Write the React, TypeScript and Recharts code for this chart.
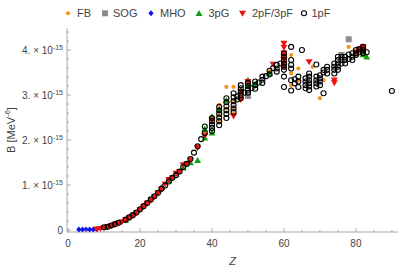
import React from 'react';
import { ScatterChart, Scatter, XAxis, YAxis } from 'recharts';

// B in units of 1e-15 MeV^-6 as [Z, B]
const fb: [number, number][] = [
  [38, 2.18], [40, 2.4], [42, 2.78], [42, 2.55], [42, 2.4], [44, 3.18], [44, 2.7],
  [46, 3.18], [46, 2.87], [46, 2.72], [46, 2.58], [48, 3.0], [50, 3.27], [56, 3.52],
  [60, 3.63], [62, 3.89], [62, 3.48], [62, 3.22], [64, 3.59], [64, 3.33], [68, 3.63],
  [70, 2.93], [71, 3.33], [78, 4.07], [80, 4.0], [81, 3.96], [82, 4.02],
];
const sog: [number, number][] = [[50, 2.98], [76, 3.89], [78, 4.24], [80, 3.92], [82, 3.97]];
const mho: [number, number][] = [[3, 0.01], [4, 0.01], [5, 0.01], [6, 0.01], [7, 0.01], [8, 0.015]];
const pg3: [number, number][] = [
  [16, 0.22], [26, 0.95], [28, 1.1], [30, 1.25], [32, 1.38], [34, 1.5], [36, 1.55],
  [38, 2.05], [38, 2.25], [40, 2.16], [40, 2.52], [42, 2.67], [44, 2.88], [48, 3.1],
  [50, 3.33], [50, 3.22], [52, 3.25], [56, 3.48], [82, 3.9], [83, 3.85],
];
const pf23: [number, number][] = [
  [8, 0.02], [9, 0.03], [10, 0.05], [11, 0.07], [12, 0.09], [13, 0.12], [14, 0.15],
  [15, 0.18], [16, 0.22], [17, 0.27], [18, 0.32], [19, 0.38], [20, 0.45], [21, 0.52],
  [22, 0.59], [23, 0.66], [24, 0.74], [25, 0.82], [26, 0.9], [27, 1.02], [28, 1.12],
  [29, 1.16], [30, 1.26], [31, 1.3], [32, 1.45], [33, 1.47], [34, 1.56], [36, 1.83],
  [38, 2.1], [40, 2.45], [46, 2.53], [48, 2.9], [48, 3.07], [50, 3.3], [57, 3.68],
  [60, 4.15], [60, 4.06], [60, 3.93], [60, 3.85], [60, 3.78], [60, 3.7], [60, 3.63],
  [67, 3.74], [74, 3.33], [74, 3.27], [80, 3.95], [81, 4.02], [82, 4.07], [82, 3.98],
];
const pf1: [number, number][] = [
  [10, 0.06], [11, 0.07], [12, 0.1], [13, 0.13], [14, 0.16], [16, 0.23], [17, 0.28],
  [18, 0.33], [19, 0.39], [20, 0.46], [21, 0.53], [22, 0.6], [23, 0.68], [24, 0.75],
  [25, 0.83], [26, 0.92], [27, 0.99], [28, 1.08], [29, 1.16], [30, 1.22], [31, 1.3],
  [32, 1.4], [33, 1.47], [34, 1.58], [35, 1.72], [36, 1.86], [37, 2.02], [38, 2.15],
  [38, 2.3], [40, 2.2], [40, 2.27], [40, 2.34], [40, 2.42], [40, 2.49],
  [42, 2.33], [42, 2.42], [42, 2.5], [42, 2.58], [42, 2.66], [42, 2.74],
  [44, 2.49], [44, 2.58], [44, 2.66], [44, 2.75], [44, 2.84], [44, 2.93],
  [46, 2.62], [46, 2.7], [46, 2.78], [46, 2.86], [46, 2.95], [46, 3.04],
  [47, 2.9], [47, 2.97], [48, 2.93], [48, 3.0], [48, 3.08], [48, 3.15], [48, 3.22],
  [49, 3.05], [50, 3.05], [50, 3.12], [50, 3.2], [50, 3.27], [51, 3.15], [52, 3.14],
  [52, 3.22], [52, 3.3], [53, 3.28], [54, 3.27], [54, 3.34], [54, 3.41], [55, 3.42],
  [56, 3.46], [56, 3.54], [57, 3.6], [58, 3.52], [58, 3.59], [58, 3.67], [59, 3.7],
  [60, 3.93], [60, 3.85], [60, 3.78], [60, 3.7], [60, 3.63], [60, 3.56], [60, 3.41], [60, 3.18],
  [62, 4.07], [62, 3.78], [62, 3.67], [62, 3.59], [62, 3.33], [62, 3.1],
  [63, 3.35], [63, 3.26], [64, 3.41], [64, 3.3], [64, 3.18], [65, 4.0],
  [66, 3.37], [66, 3.3], [66, 3.22], [66, 3.15],
  [67, 3.48], [67, 3.41], [67, 3.33], [67, 3.26], [67, 3.19], [67, 3.11],
  [69, 3.68], [69, 3.41], [69, 3.33], [69, 3.26], [69, 3.19],
  [70, 3.44], [70, 3.37], [70, 3.3], [70, 3.22], [71, 3.04], [71, 3.5], [71, 3.56],
  [72, 3.56], [72, 3.63], [72, 3.48], [74, 3.7], [74, 3.63], [74, 3.56], [74, 3.48],
  [75, 3.85], [75, 3.78], [75, 3.7], [75, 3.63], [75, 3.56], [76, 3.85], [76, 3.78], [76, 3.7],
  [77, 3.85], [77, 3.78], [77, 3.7], [78, 3.9], [78, 3.8], [79, 3.93], [79, 3.85], [79, 3.78],
  [80, 4.0], [80, 3.93], [80, 3.89], [81, 4.02], [81, 3.95], [82, 4.07], [82, 4.0], [82, 3.93],
  [83, 3.95], [90, 3.09],
];

const xTicks = [0, 5, 10, 15, 20, 25, 30, 35, 40, 45, 50, 55, 60, 65, 70, 75, 80, 85, 90];
const xMajor = [0, 20, 40, 60, 80];
const yTicks = [0, 0.2, 0.4, 0.6, 0.8, 1, 1.2, 1.4, 1.6, 1.8, 2, 2.2, 2.4, 2.6, 2.8, 3, 3.2, 3.4, 3.6, 3.8, 4, 4.2, 4.4];
const yMajor = [0, 1, 2, 3, 4];

const FRAME = '#a8a8a8';
const TEXT = '#444';
const FONT = '"Liberation Sans", Arial, sans-serif';

const C = { fb: '#f7931e', sog: '#8c8c8c', mho: '#1010e8', pg3: '#12a012', pf23: '#ee1111', pf1: '#000' };

const toRows = (pts: [number, number][]) => pts.map(([z, b]) => ({ z, b }));

const mk = {
  fb: (p: any) => <circle cx={p.cx} cy={p.cy} r={2.1} fill={C.fb} />,
  sog: (p: any) => <rect x={p.cx - 3} y={p.cy - 3} width={6} height={6} fill={C.sog} />,
  mho: (p: any) => <path d={`M${p.cx},${p.cy - 3}L${p.cx + 2.6},${p.cy}L${p.cx},${p.cy + 3}L${p.cx - 2.6},${p.cy}Z`} fill={C.mho} />,
  pg3: (p: any) => <path d={`M${p.cx},${p.cy - 3.4}L${p.cx + 3.5},${p.cy + 2.6}L${p.cx - 3.5},${p.cy + 2.6}Z`} fill={C.pg3} />,
  pf23: (p: any) => <path d={`M${p.cx},${p.cy + 3.4}L${p.cx + 3.5},${p.cy - 2.6}L${p.cx - 3.5},${p.cy - 2.6}Z`} fill={C.pf23} />,
  pf1: (p: any) => <circle cx={p.cx} cy={p.cy} r={2.5} fill="none" stroke={C.pf1} strokeWidth={1.1} />,
};

const BottomTick = ({ x, y, payload }: any) => {
  const major = xMajor.includes(payload.value);
  return (
    <g>
      <line x1={x} x2={x} y1={y} y2={y - (major ? 4 : 2)} stroke={FRAME} />
      {major && (
        <text x={x} y={y + 15} textAnchor="middle" fontSize={10} fill={TEXT} fontFamily={FONT}>{payload.value}</text>
      )}
    </g>
  );
};

const TopTick = ({ x, y, payload }: any) => (
  <line x1={x} x2={x} y1={y} y2={y + (xMajor.includes(payload.value) ? 4 : 2)} stroke={FRAME} />
);

const LeftTick = ({ x, y, payload }: any) => {
  const v = Math.round(payload.value * 10) / 10;
  const major = yMajor.includes(v);
  return (
    <g>
      <line x1={x} x2={x + (major ? 4 : 2)} y1={y} y2={y} stroke={FRAME} />
      {major && (
        <text x={x - 4} y={y + 3.5} textAnchor="end" fontSize={10} fill={TEXT} fontFamily={FONT}>
          {v === 0 ? '0' : (
            <>
              {`${v}. × 10`}
              <tspan dy={-4} fontSize={7}>-15</tspan>
            </>
          )}
        </text>
      )}
    </g>
  );
};

const RightTick = ({ x, y, payload }: any) => {
  const v = Math.round(payload.value * 10) / 10;
  return <line x1={x} x2={x - (yMajor.includes(v) ? 4 : 2)} y1={y} y2={y} stroke={FRAME} />;
};

const YLabel = ({ viewBox }: any) => {
  const cy = viewBox.y + viewBox.height / 2;
  return (
    <text x={11} y={cy} transform={`rotate(-90, 11, ${cy})`} textAnchor="middle" dominantBaseline="central" fontSize={11} fill={TEXT} fontFamily={FONT}>
      B [MeV<tspan dy={-4} fontSize={7.5}>-6</tspan><tspan dy={4}>]</tspan>
    </text>
  );
};

const legendItems = [
  { key: 'fb', label: 'FB', x: 68, tx: 77 },
  { key: 'sog', label: 'SOG', x: 105, tx: 113 },
  { key: 'mho', label: 'MHO', x: 151, tx: 160 },
  { key: 'pg3', label: '3pG', x: 199, tx: 208.5 },
  { key: 'pf23', label: '2pF/3pF', x: 242.5, tx: 252 },
  { key: 'pf1', label: '1pF', x: 304, tx: 311.5 },
];

export default function App() {
  const xDomain = [-0.3, 91.7];
  const yDomain = [-0.044, 4.49];
  return (
    <div style={{ position: 'absolute', left: 0, top: 0, width: 399, height: 270, background: '#fff' }}>
      <ScatterChart width={399} height={270} margin={{ top: 28, right: 1, bottom: 0, left: 0 }}>
        <XAxis xAxisId={0} type="number" dataKey="z" domain={xDomain} ticks={xTicks} height={38}
          stroke={FRAME} tickLine={false} tickSize={0} tickMargin={0} tick={<BottomTick />} interval={0}
          label={{ value: 'Z', position: 'insideBottom', offset: 5, fontSize: 11, fontStyle: 'italic', fill: TEXT, fontFamily: FONT }} />
        <XAxis xAxisId="top" orientation="top" type="number" dataKey="z" domain={xDomain} ticks={xTicks} height={0}
          stroke={FRAME} tickLine={false} tickSize={0} tickMargin={0} tick={<TopTick />} interval={0} />
        <YAxis yAxisId={0} type="number" dataKey="b" domain={yDomain} ticks={yTicks} width={67}
          stroke={FRAME} tickLine={false} tickSize={0} tickMargin={0} tick={<LeftTick />} interval={0}
          label={{ content: <YLabel /> }} />
        <YAxis yAxisId="right" orientation="right" type="number" dataKey="b" domain={yDomain} ticks={yTicks} width={0}
          stroke={FRAME} tickLine={false} tickSize={0} tickMargin={0} tick={<RightTick />} interval={0} />
        <Scatter name="FB" data={toRows(fb)} shape={mk.fb} isAnimationActive={false} />
        <Scatter name="SOG" data={toRows(sog)} shape={mk.sog} isAnimationActive={false} />
        <Scatter name="MHO" data={toRows(mho)} shape={mk.mho} isAnimationActive={false} />
        <Scatter name="3pG" data={toRows(pg3)} shape={mk.pg3} isAnimationActive={false} />
        <Scatter name="2pF/3pF" data={toRows(pf23)} shape={mk.pf23} isAnimationActive={false} />
        <Scatter name="1pF" data={toRows(pf1)} shape={mk.pf1} isAnimationActive={false} />
      </ScatterChart>
      <svg width={399} height={26} style={{ position: 'absolute', left: 0, top: 0 }}>
        {legendItems.map((it) => (
          <g key={it.key}>
            {(mk as any)[it.key]({ cx: it.x, cy: 13.3 })}
            <text x={it.tx} y={17.2} fontSize={11} fill={TEXT} fontFamily={FONT}>{it.label}</text>
          </g>
        ))}
      </svg>
    </div>
  );
}
